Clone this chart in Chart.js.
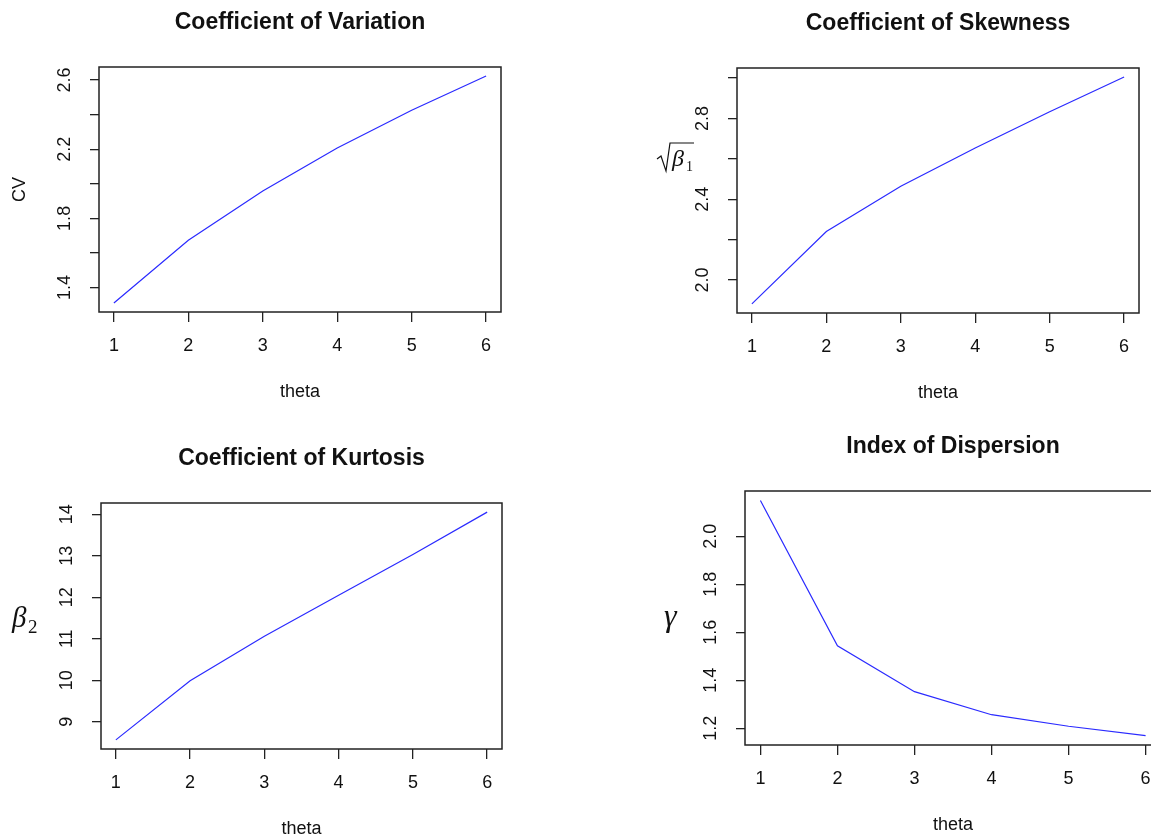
<!DOCTYPE html>
<html>
<head>
<meta charset="utf-8">
<script src="https://cdn.jsdelivr.net/npm/chart.js@4"></script>
<style>
  html, body { margin: 0; padding: 0; background: #fff; overflow: hidden; width: 1151px; height: 838px; }
  canvas { position: absolute; }
</style>
</head>
<body>
<canvas id="cv" width="575" height="419" style="left:0;top:0"></canvas>
<canvas id="skew" width="576" height="419" style="left:575px;top:0"></canvas>
<canvas id="kurt" width="575" height="419" style="left:0;top:419px"></canvas>
<canvas id="disp" width="600" height="419" style="left:575px;top:419px"></canvas>
<script>
const theta = [1, 2, 3, 4, 5, 6];
const cvValues = [1.311, 1.673, 1.958, 2.207, 2.425, 2.623];
const skewValues = [1.881, 2.240, 2.464, 2.654, 2.833, 3.005];
const kurtValues = [8.565, 9.99, 11.06, 12.05, 13.03, 14.05];
const dispValues = [2.149, 1.543, 1.352, 1.256, 1.208, 1.169];

const thetaTicks = [1, 2, 3, 4, 5, 6];
const cvTicks = [1.4, 1.6, 1.8, 2.0, 2.2, 2.4, 2.6];
const cvTickLabels = ["1.4", "", "1.8", "", "2.2", "", "2.6"];
const skewTicks = [2.0, 2.2, 2.4, 2.6, 2.8, 3.0];
const skewTickLabels = ["2.0", "", "2.4", "", "2.8", ""];
const kurtTicks = [9, 10, 11, 12, 13, 14];
const kurtTickLabels = ["9", "10", "11", "12", "13", "14"];
const dispTicks = [1.2, 1.4, 1.6, 1.8, 2.0];
const dispTickLabels = ["1.2", "1.4", "1.6", "1.8", "2.0"];

const SANS = '"Liberation Sans", Arial, sans-serif';
const SERIF = '"Liberation Serif", "Times New Roman", serif';

// R pads the data range by 4% on each side
function rRange(vals) {
    const lo = Math.min(...vals), hi = Math.max(...vals);
    const d = (hi - lo) * 0.04;
    return [lo - d, hi + d];
}

// base-graphics look: box, titles, tick labels (drawn after the chart)
const rBase = {
    id: "rBase",
    afterDraw(chart, args, opts) {
        const { ctx, chartArea: a, scales: { x, y } } = chart;
        ctx.save();
        ctx.strokeStyle = "#222";
        ctx.lineWidth = 1.5;
        ctx.strokeRect(a.left, a.top, a.right - a.left, a.bottom - a.top);

        ctx.fillStyle = "#111";
        ctx.textAlign = "center";
        ctx.textBaseline = "middle";
        ctx.font = "bold 23px " + SANS;
        ctx.fillText(opts.title, (a.left + a.right) / 2, a.top - 44);

        ctx.font = "18px " + SANS;
        thetaTicks.forEach((t) => ctx.fillText(String(t), x.getPixelForValue(t), a.bottom + 34));
        ctx.fillText("theta", (a.left + a.right) / 2, a.bottom + 80);

        opts.yTicks.forEach((v, i) => {
            if (!opts.yLabels[i]) return;
            ctx.save();
            ctx.translate(a.left - 34, y.getPixelForValue(v));
            ctx.rotate(-Math.PI / 2);
            ctx.fillText(opts.yLabels[i], 0, 0);
            ctx.restore();
        });

        opts.yTitle(ctx, a);
        ctx.restore();
    },
};

function makeChart(id, values, yTicks, yLabels, title, yTitle, pad) {
    const [ymin, ymax] = rRange(values);
    return new Chart(document.getElementById(id), {
        type: "line",
        data: {
            datasets: [{
                data: theta.map((t, i) => ({ x: t, y: values[i] })),
                borderColor: "#2a2aff",
                borderWidth: 1.2,
                pointRadius: 0,
                tension: 0,
            }],
        },
        options: {
            responsive: false,
            animation: false,
            devicePixelRatio: 1,
            layout: { padding: pad },
            plugins: {
                legend: { display: false },
                tooltip: { enabled: false },
                rBase: { title, yTicks, yLabels, yTitle },
            },
            scales: {
                x: {
                    type: "linear",
                    min: 0.8,
                    max: 6.2,
                    afterBuildTicks: (s) => { s.ticks = thetaTicks.map((v) => ({ value: v })); },
                    afterFit: (s) => { s.height = 0; },
                    ticks: { display: false },
                    grid: { drawOnChartArea: false, drawTicks: true, tickLength: 10, color: "#222", lineWidth: 1.3 },
                    border: { display: false },
                },
                y: {
                    type: "linear",
                    min: ymin,
                    max: ymax,
                    afterBuildTicks: (s) => { s.ticks = yTicks.map((v) => ({ value: v })); },
                    afterFit: (s) => { s.width = 0; },
                    ticks: { display: false },
                    grid: { drawOnChartArea: false, drawTicks: true, tickLength: 9, color: "#222", lineWidth: 1.3 },
                    border: { display: false },
                },
            },
        },
        plugins: [rBase],
    });
}

makeChart("cv", cvValues, cvTicks, cvTickLabels, "Coefficient of Variation",
    (ctx, a) => {
        ctx.save();
        ctx.font = "18px " + SANS;
        ctx.translate(a.left - 79, (a.top + a.bottom) / 2);
        ctx.rotate(-Math.PI / 2);
        ctx.fillText("CV", 0, 0);
        ctx.restore();
    },
    { left: 99, top: 67, right: 74, bottom: 107 });

makeChart("skew", skewValues, skewTicks, skewTickLabels, "Coefficient of Skewness",
    (ctx, a) => {
        const x0 = a.left, y0 = a.top;
        ctx.save();
        ctx.strokeStyle = "#111";
        ctx.lineWidth = 1.2;
        ctx.beginPath();
        ctx.moveTo(x0 - 80, y0 + 91);
        ctx.lineTo(x0 - 76, y0 + 88);
        ctx.lineTo(x0 - 71, y0 + 103);
        ctx.lineTo(x0 - 67, y0 + 75);
        ctx.lineTo(x0 - 43, y0 + 75);
        ctx.stroke();
        ctx.textAlign = "left";
        ctx.textBaseline = "alphabetic";
        ctx.font = "italic 24px " + SERIF;
        ctx.fillText("β", x0 - 65, y0 + 98);
        ctx.font = "14px " + SERIF;
        ctx.fillText("1", x0 - 51, y0 + 103);
        ctx.restore();
    },
    { left: 162, top: 68, right: 12, bottom: 106 });

makeChart("kurt", kurtValues, kurtTicks, kurtTickLabels, "Coefficient of Kurtosis",
    (ctx, a) => {
        ctx.save();
        ctx.textAlign = "left";
        ctx.textBaseline = "alphabetic";
        ctx.font = "italic 29px " + SERIF;
        ctx.fillText("β", a.left - 89, a.top + 124);
        ctx.font = "19px " + SERIF;
        ctx.fillText("2", a.left - 73, a.top + 130);
        ctx.restore();
    },
    { left: 101, top: 84, right: 73, bottom: 89 });

makeChart("disp", dispValues, dispTicks, dispTickLabels, "Index of Dispersion",
    (ctx, a) => {
        ctx.save();
        ctx.textAlign = "left";
        ctx.textBaseline = "alphabetic";
        ctx.font = "italic 32px " + SERIF;
        ctx.fillText("γ", a.left - 81, a.top + 135);
        ctx.restore();
    },
    { left: 170, top: 72, right: 14, bottom: 93 });
</script>
</body>
</html>
